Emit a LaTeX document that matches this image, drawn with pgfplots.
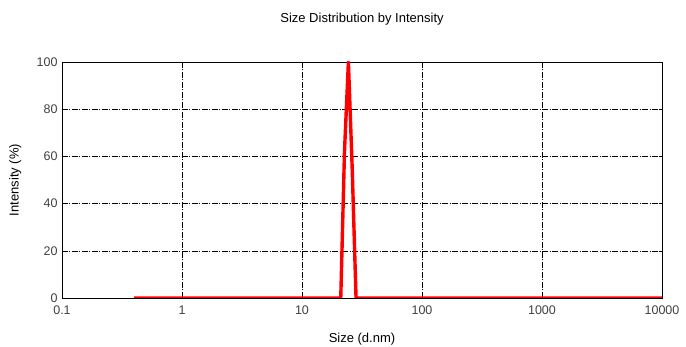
\documentclass[border=0pt]{standalone}
\usepackage{fontspec}
\setmainfont{Liberation Sans}
\usepackage{pgfplots}
\pgfplotsset{compat=1.18}
\begin{document}
\begin{tikzpicture}
\path[use as bounding box] (-62pt,-49pt) rectangle (624pt,298pt);
\begin{axis}[
  at={(0,0)}, anchor=south west,
  scale only axis,
  width=600pt, height=236pt,
  xmode=log, log basis x=10,
  xmin=0.1, xmax=10000, ymin=0, ymax=100,
  xtick={0.1,1,10,100,1000,10000},
  xticklabels={0.1,1,10,100,1000,10000},
  ytick={0,20,40,60,80,100},
  /pgf/number format/assume math mode=true,
  ticklabel style={font=\fontsize{12.5}{14}\selectfont, text=black!75},
  xticklabel style={yshift=-4pt},
  yticklabel style={xshift=-1pt},
  label style={font=\fontsize{13}{15}\selectfont},
  title style={font=\fontsize{13}{15}\selectfont, at={(axis description cs:0.5,1)}, anchor=base, yshift=33pt},
  title={Size Distribution by Intensity},
  xlabel={Size (d.nm)},
  ylabel={Intensity (\%)},
  xlabel style={at={(axis description cs:0.5,0)}, anchor=base, yshift=-45pt},
  ylabel style={at={(axis description cs:-0.078,0.5)}, anchor=center},
  grid=major,
  major grid style={black, line width=0.5pt, dash pattern=on 6pt off 1.5pt on 1pt off 1.5pt},
  axis line style={black, line width=0.6pt},
  major tick length=3pt,
  tick style={black},
  minor x tick num=8,
  minor tick length=2pt,
  tick align=inside,
]
\addplot[red, line width=3.4pt, line join=round] coordinates {
(0.4,0) (0.6,0) (1,0) (2,0) (5,0) (10,0) (15.7,0) (18.17,0) (21.04,0)
(22.6,62) (24.36,100) (26.2,55) (28.21,0) (32.67,0) (50,0) (100,0) (500,0) (1000,0) (5000,0) (10000,0)
};
\end{axis}
\end{tikzpicture}
\end{document}
